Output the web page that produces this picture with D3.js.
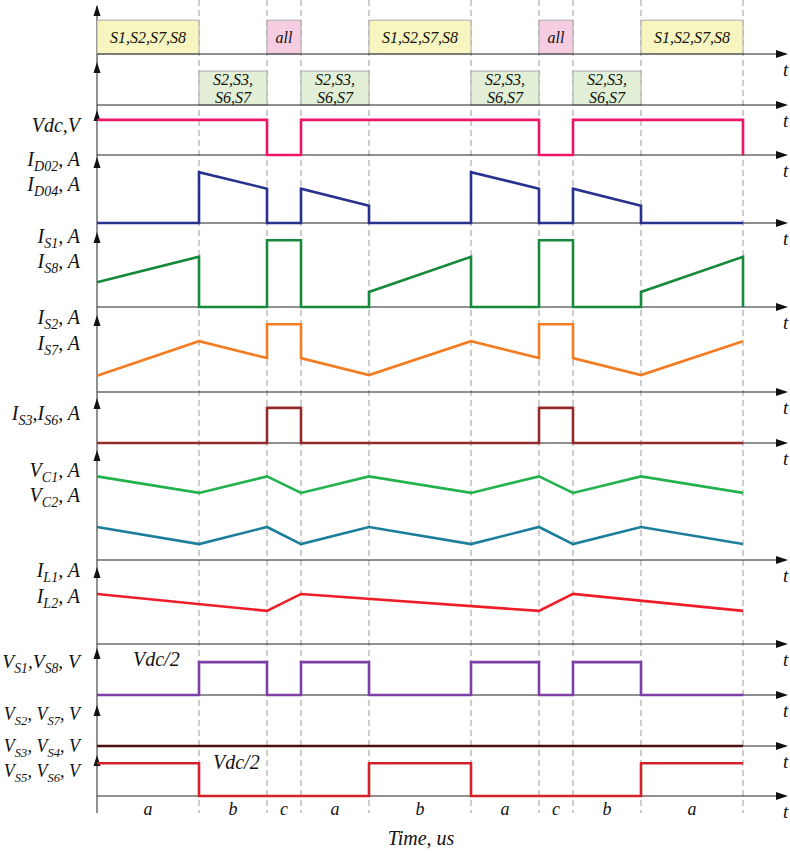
<!DOCTYPE html>
<html>
<head>
<meta charset="utf-8">
<script src="https://cdn.jsdelivr.net/npm/d3@7"></script>
<style>
  html, body { margin: 0; padding: 0; background: #fff; }
  svg { display: block; }
  text { font-family: "Liberation Serif", "Times New Roman", serif; font-style: italic; fill: #111; }
</style>
</head>
<body>
<svg id="chart" width="790" height="853"></svg>
<script>
// time instants where the switching state changes (arbitrary units)
const tBreaks = [0, 3, 5, 6, 8, 11, 13, 14, 16, 19];
const segLabels = ["a", "b", "c", "a", "b", "a", "c", "b", "a"];

// gating states
const row1Boxes = [
  { t0: 0, t1: 3, lines: ["S1,S2,S7,S8"], kind: "on" },
  { t0: 5, t1: 6, lines: ["all"], kind: "all" },
  { t0: 8, t1: 11, lines: ["S1,S2,S7,S8"], kind: "on" },
  { t0: 13, t1: 14, lines: ["all"], kind: "all" },
  { t0: 16, t1: 19, lines: ["S1,S2,S7,S8"], kind: "on" }
];
const row2Boxes = [
  { t0: 3, t1: 5, lines: ["S2,S3,", "S6,S7"], kind: "mid" },
  { t0: 6, t1: 8, lines: ["S2,S3,", "S6,S7"], kind: "mid" },
  { t0: 11, t1: 13, lines: ["S2,S3,", "S6,S7"], kind: "mid" },
  { t0: 14, t1: 16, lines: ["S2,S3,", "S6,S7"], kind: "mid" }
];

// waveforms, [t, level] with level relative to panel height
const vdc = [[0,0.78],[5,0.78],[5,0],[6,0],[6,0.78],[13,0.78],[13,0],[14,0],[14,0.78],[19,0.78],[19,0]];
const iD = [[0,0],[3,0],[3,0.77],[5,0.52],[5,0],[6,0],[6,0.52],[8,0.26],[8,0],[11,0],[11,0.77],[13,0.52],[13,0],[14,0],[14,0.52],[16,0.26],[16,0],[19,0]];
const iS1 = [[0,0.33],[3,0.67],[3,0],[5,0],[5,0.89],[6,0.89],[6,0],[8,0],[8,0.2],[11,0.67],[11,0],[13,0],[13,0.89],[14,0.89],[14,0],[16,0],[16,0.2],[19,0.67],[19,0]];
const iS2 = [[0,0.21],[3,0.66],[5,0.44],[5,0.88],[6,0.88],[6,0.44],[8,0.22],[11,0.66],[13,0.44],[13,0.88],[14,0.88],[14,0.44],[16,0.22],[19,0.66]];
const iS3 = [[0,0],[5,0],[5,0.78],[6,0.78],[6,0],[13,0],[13,0.78],[14,0.78],[14,0],[19,0]];
const vC1 = [[0,0.76],[3,0.61],[5,0.76],[6,0.61],[8,0.76],[11,0.61],[13,0.76],[14,0.61],[16,0.76],[19,0.61]];
const vC2 = [[0,0.30],[3,0.145],[5,0.30],[6,0.145],[8,0.30],[11,0.145],[13,0.30],[14,0.145],[16,0.30],[19,0.145]];
const iL = [[0,0.65],[5,0.43],[6,0.65],[13,0.43],[14,0.65],[19,0.43]];
const vS1 = [[0,0],[3,0],[3,0.7],[5,0.7],[5,0],[6,0],[6,0.7],[8,0.7],[8,0],[11,0],[11,0.7],[13,0.7],[13,0],[14,0],[14,0.7],[16,0.7],[16,0],[19,0]];
const vS3 = [[0,0],[19,0]];
const vS5 = [[0,0.8],[3,0.8],[3,0],[8,0],[8,0.8],[11,0.8],[11,0],[16,0],[16,0.8],[19,0.8]];

// panel layout: baseline and arrow tip in px
const panels = [
  { base: 54,  top: 5,   boxes: row1Boxes, boxLevel: 0.69, labels: [] },
  { base: 105, top: 62,  boxes: row2Boxes, boxLevel: 0.79, labels: [] },
  { base: 155, top: 110, series: [[vdc, "#ee1569"]], labels: [["Vdc,V", 132]] },
  { base: 223, top: 157, series: [[iD, "#25318c"]], labels: [["I_{D02}, A", 166], ["I_{D04}, A", 191]] },
  { base: 307, top: 232, series: [[iS1, "#17893b"]], labels: [["I_{S1}, A", 243], ["I_{S8}, A", 268]] },
  { base: 392, top: 315, series: [[iS2, "#f47c22"]], labels: [["I_{S2}, A", 324], ["I_{S7}, A", 350]] },
  { base: 443, top: 398, series: [[iS3, "#952a2a"]], labels: [["I_{S3},I_{S6}, A", 420]] },
  { base: 560, top: 450, series: [[vC1, "#23b24e"], [vC2, "#1d7e9c"]], labels: [["V_{C1}, A", 477], ["V_{C2}, A", 502]] },
  { base: 644, top: 567, series: [[iL, "#ee1d27"]], labels: [["I_{L1}, A", 577], ["I_{L2}, A", 603]] },
  { base: 695, top: 648, series: [[vS1, "#7d3fa5"]], labels: [["V_{S1},V_{S8}, V", 668]] },
  { base: 746, top: 705, series: [[vS3, "#4b1010"]], labels: [["V_{S2}, V_{S7}, V", 720], ["V_{S3}, V_{S4}, V", 752]] },
  { base: 796, top: 755, series: [[vS5, "#d3222a"]], labels: [["V_{S5}, V_{S6}, V", 777]] }
];

const boxFill = { on: "#f8f6c0", all: "#f7cde2", mid: "#e3efd6" };

const svg = d3.select("#chart");
const x = d3.scaleLinear().domain([0, 19]).range([97, 743]);
const axisX = 97, axisEnd = 790, axisBottom = 813;

// dashed guides
svg.append("g")
  .selectAll("line")
  .data(tBreaks.slice(1))
  .enter()
  .append("line")
  .attr("x1", d => x(d)).attr("x2", d => x(d))
  .attr("y1", 0).attr("y2", axisBottom)
  .attr("stroke", "#9a9a9a")
  .attr("stroke-width", 1)
  .attr("stroke-dasharray", "6,4");

// main vertical axis
svg.append("line")
  .attr("x1", axisX).attr("x2", axisX)
  .attr("y1", 6).attr("y2", axisBottom)
  .attr("stroke", "#222").attr("stroke-width", 1);

// "I_{S1}, A" -> I with subscript S1, then ", A"
function labelText(sel, str, size) {
  sel.selectAll("tspan").remove();
  const parts = str.split(/(_\{[^}]*\})/).filter(s => s.length);
  let shift = 0;
  parts.forEach(p => {
    if (p.startsWith("_{")) {
      sel.append("tspan").attr("font-size", size * 0.7).attr("dy", 5).text(p.slice(2, -1));
      shift = -5;
    } else {
      sel.append("tspan").attr("font-size", size).attr("dy", shift).text(p);
      shift = 0;
    }
  });
}

panels.forEach(p => {
  const y = d3.scaleLinear().domain([0, 1]).range([p.base, p.top]);
  const g = svg.append("g");

  if (p.boxes) {
    const bx = g.selectAll(".box")
      .data(p.boxes)
      .enter()
      .append("g")
      .attr("class", "box");
    bx.append("rect")
      .attr("x", d => x(d.t0))
      .attr("y", y(p.boxLevel))
      .attr("width", d => x(d.t1) - x(d.t0))
      .attr("height", y(0) - y(p.boxLevel))
      .attr("fill", d => boxFill[d.kind])
      .attr("stroke", "#a8a8a8")
      .attr("stroke-width", 1);
    bx.each(function(d) {
      const mid = (y(0) + y(p.boxLevel)) / 2;
      const n = d.lines.length;
      d.lines.forEach((ln, i) => {
        d3.select(this).append("text")
          .attr("x", (x(d.t0) + x(d.t1)) / 2)
          .attr("y", mid + 6 + (i - (n - 1) / 2) * 18)
          .attr("text-anchor", "middle")
          .attr("font-size", 16)
          .text(ln);
      });
    });
  }

  // horizontal axis with arrow
  g.append("line")
    .attr("x1", axisX).attr("x2", axisEnd - 8)
    .attr("y1", p.base).attr("y2", p.base)
    .attr("stroke", "#222").attr("stroke-width", 1);
  g.append("path")
    .attr("d", `M${axisEnd - 2},${p.base} L${axisEnd - 14},${p.base - 4} L${axisEnd - 14},${p.base + 4} Z`)
    .attr("fill", "#111");
  g.append("text")
    .attr("x", 783).attr("y", p.base + 22)
    .attr("font-size", 19)
    .text("t");

  // arrowhead on the vertical axis
  g.append("path")
    .attr("d", `M${axisX},${p.top} L${axisX - 3.5},${p.top + 11} L${axisX + 3.5},${p.top + 11} Z`)
    .attr("fill", "#111");

  (p.series || []).forEach(([data, color]) => {
    g.append("path")
      .datum(data)
      .attr("d", d3.line().x(d => x(d[0])).y(d => y(d[1])))
      .attr("fill", "none")
      .attr("stroke", color)
      .attr("stroke-width", 2.6)
      .attr("stroke-linejoin", "miter");
  });

  p.labels.forEach(([str, ly]) => {
    const t = g.append("text")
      .attr("x", 80).attr("y", ly)
      .attr("text-anchor", "end")
      .attr("font-size", 20);
    let size = 20;
    labelText(t, str, size);
    // shrink the long labels so they stay inside the left edge
    while (t.node().getComputedTextLength() > 78 && size > 14) {
      size -= 0.5;
      labelText(t, str, size);
    }
  });
});

// level annotations
svg.append("text").attr("x", 133).attr("y", 666).attr("font-size", 20).text("Vdc/2");
svg.append("text").attr("x", 213).attr("y", 769).attr("font-size", 20).text("Vdc/2");

// interval letters
svg.append("g")
  .selectAll("text")
  .data(segLabels)
  .enter()
  .append("text")
  .attr("x", (d, i) => (x(tBreaks[i]) + x(tBreaks[i + 1])) / 2)
  .attr("y", 815)
  .attr("text-anchor", "middle")
  .attr("font-size", 18)
  .text(d => d);

svg.append("text")
  .attr("x", 421).attr("y", 845)
  .attr("text-anchor", "middle")
  .attr("font-size", 20)
  .text("Time, us");
</script>
</body>
</html>
